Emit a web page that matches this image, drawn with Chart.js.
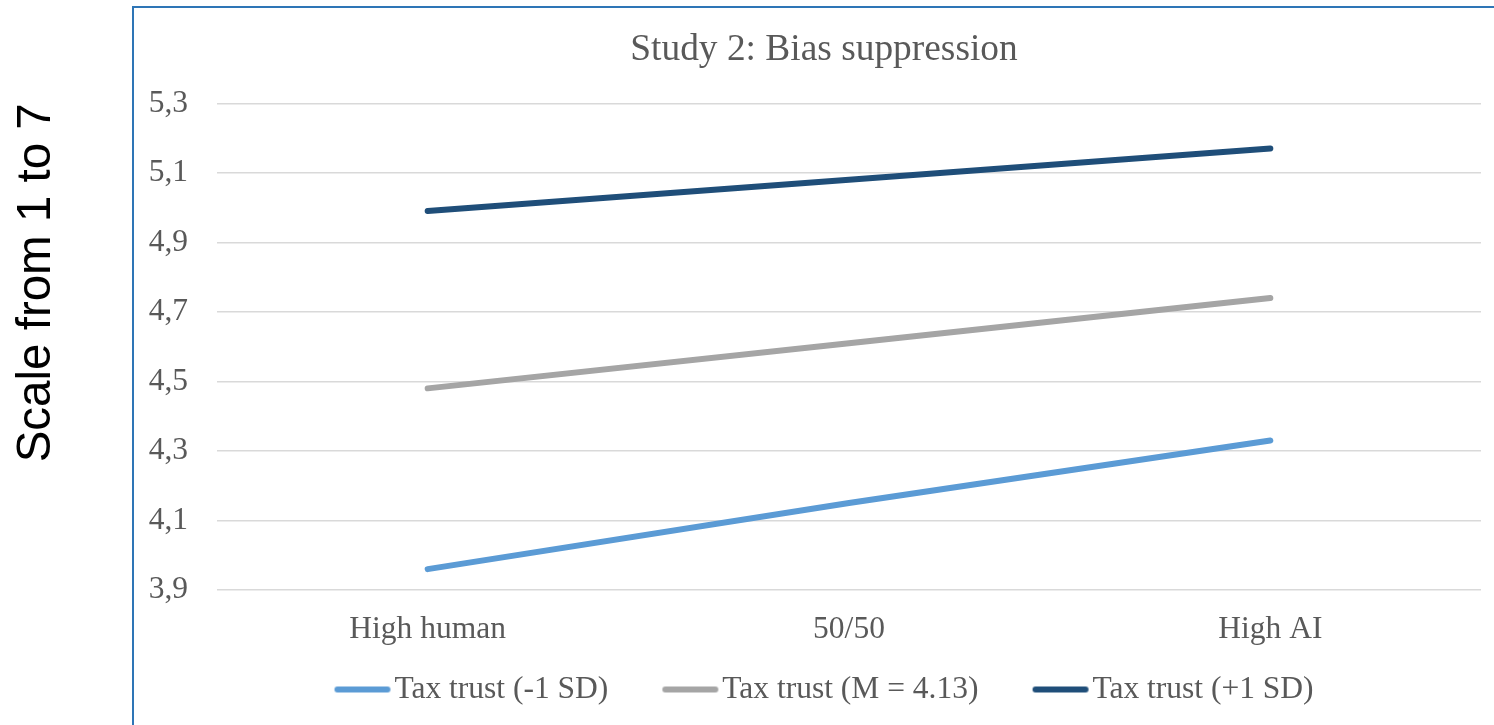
<!DOCTYPE html>
<html>
<head>
<meta charset="utf-8">
<script src="https://cdn.jsdelivr.net/npm/chart.js@4"></script>
<style>
  html, body { margin: 0; padding: 0; background: #fff; overflow: hidden; }
  #wrap { position: absolute; left: 0; top: 0; width: 1648px; height: 725px; }
  #frame { position: absolute; left: 132px; top: 6px; width: 2000px; height: 1000px;
           border-left: 2px solid #2E75B6; border-top: 2px solid #2E75B6; pointer-events: none; }
</style>
</head>
<body>
<div id="wrap"><canvas id="c" width="1648" height="725" style="width:1648px;height:725px"></canvas></div>
<div id="frame"></div>
<script>
// ---- data ----
const categories = ['High human', '50/50', 'High AI'];
const seriesLabels = ['Tax trust (-1 SD)', 'Tax trust (M = 4.13)', 'Tax trust (+1 SD)'];
const lowTrust  = [3.96, 4.15, 4.33];
const meanTrust = [4.48, 4.61, 4.74];
const highTrust = [4.99, 5.08, 5.17];
const yMin = 3.9, yMax = 5.3, yStep = 0.2;
const chartTitle = 'Study 2: Bias suppression';
const yTitle = 'Scale from 1 to 7';

// ---- styles ----
const colors = ['#5B9BD5', '#A5A5A5', '#1F4E79'];
const serif = "'Liberation Serif', 'Times New Roman', serif";
const textGray = '#595959';
const labelSize = 31.5;

function legendSwatch(color) {
  const cv = document.createElement('canvas');
  cv.width = 120; cv.height = 10;
  const g = cv.getContext('2d');
  g.strokeStyle = color; g.lineWidth = 6; g.lineCap = 'round';
  g.beginPath(); g.moveTo(40.9, 5); g.lineTo(90.9, 5); g.stroke();
  return cv;
}

const seriesData = [lowTrust, meanTrust, highTrust];
const datasets = seriesData.map((d, i) => ({
  label: seriesLabels[i],
  data: d,
  borderColor: colors[i],
  backgroundColor: colors[i],
  borderWidth: 6,
  borderCapStyle: 'round',
  borderJoinStyle: 'round',
  pointRadius: 0,
  pointHoverRadius: 0,
  pointStyle: legendSwatch(colors[i]),
  tension: 0,
  fill: false
}));

new Chart(document.getElementById('c'), {
  type: 'line',
  data: { labels: categories, datasets },
  options: {
    responsive: false,
    animation: false,
    layout: { padding: { left: 0, right: 0, top: 0, bottom: 9.75 } },
    plugins: {
      tooltip: { enabled: false },
      title: {
        display: true,
        text: chartTitle,
        color: textGray,
        font: { family: serif, size: 37.4, weight: 'normal' },
        padding: { top: 28, bottom: 30.4 }
      },
      legend: {
        position: 'bottom',
        labels: {
          usePointStyle: true,
          pointStyleWidth: 44.25,
          padding: 54,
          color: textGray,
          font: { family: serif, size: labelSize }
        }
      }
    },
    scales: {
      x: {
        offset: true,
        grid: { display: false, drawTicks: false },
        border: { display: false },
        ticks: { color: textGray, font: { family: serif, size: labelSize }, mirror: true, padding: -58.4, maxRotation: 0 },
        afterFit: s => { s.height = 29.75; }
      },
      y: {
        min: yMin, max: yMax,
        grid: { color: '#D9D9D9', lineWidth: 1.5, drawTicks: false },
        border: { display: false },
        ticks: {
          stepSize: yStep,
          color: textGray,
          font: { family: serif, size: labelSize },
          padding: 29,
          callback: v => Number(v).toFixed(1).replace('.', ',')
        },
        title: {
          display: true,
          text: yTitle,
          align: 'end',
          color: '#000',
          font: { family: "'Liberation Sans', Arial, sans-serif", size: 47.5, weight: 'normal' },
          padding: { top: 8, bottom: 0 }
        },
        afterFit: s => { s.width = 217; }
      },
      y2: {
        position: 'right',
        display: true,
        grid: { display: false, drawTicks: false },
        border: { display: false },
        ticks: { display: false },
        afterFit: s => { s.width = 167; }
      }
    }
  }
});
</script>
</body>
</html>
